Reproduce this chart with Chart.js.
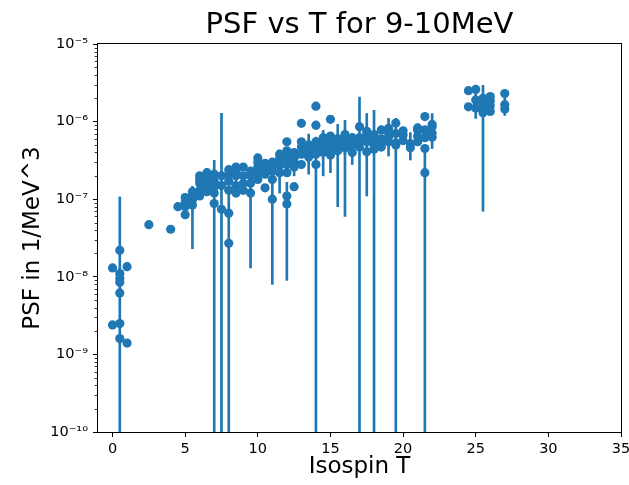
<!DOCTYPE html>
<html>
<head>
<meta charset="utf-8">
<script src="https://cdn.jsdelivr.net/npm/chart.js@4.4.1/dist/chart.umd.min.js"></script>
<style>
  html, body { margin: 0; padding: 0; background: #fff; }
  #c { display: block; }
</style>
</head>
<body>
<canvas id="c" width="629" height="485"></canvas>
<script>
// ---- data: isospin T, photon strength function value and its 1-sigma error ----
const isospin = [
  0, 0,
  0.5, 0.5, 0.5, 0.5, 0.5, 0.5, 0.5,
  1, 1,
  2.5, 4, 4.5,
  5, 5, 5, 5,
  5.5, 5.5, 5.5, 5.5,
  6, 6, 6, 6, 6,
  6.5, 6.5, 6.5, 6.5,
  7, 7, 7, 7, 7,
  7.5, 7.5, 7.5,
  8, 8, 8, 8, 8, 8,
  8.5, 8.5, 8.5, 8.5, 8.5,
  9, 9, 9, 9,
  9.5, 9.5, 9.5, 9.5,
  10, 10, 10, 10, 10,
  10.5, 10.5, 10.5, 10.5,
  11, 11, 11, 11, 11,
  11.5, 11.5, 11.5, 11.5,
  12, 12, 12, 12, 12, 12, 12,
  12.5, 12.5, 12.5, 12.5, 12.5,
  13, 13, 13, 13, 13,
  13.5, 13.5, 13.5, 13.5,
  14, 14, 14, 14, 14, 14,
  14.5, 14.5, 14.5, 14.5,
  15, 15, 15, 15, 15,
  15.5, 15.5, 15.5,
  16, 16, 16, 16,
  16.5, 16.5, 16.5,
  17, 17, 17, 17,
  17.5, 17.5, 17.5, 17.5,
  18, 18, 18, 18,
  18.5, 18.5, 18.5, 18.5,
  19, 19, 19, 19,
  19.5, 19.5, 19.5, 19.5,
  20, 20, 20,
  20.5, 20.5,
  21, 21, 21, 21,
  21.5, 21.5, 21.5, 21.5, 21.5,
  22, 22, 22, 22,
  24.5, 24.5,
  25, 25, 25,
  25.5, 25.5, 25.5, 25.5,
  26, 26, 26, 26,
  27, 27, 27
];

const psf = [
  1.3e-8, 2.4e-9,
  2.2e-8, 1.1e-8, 9.5e-9, 8.5e-9, 6.2e-9, 2.5e-9, 1.6e-9,
  1.35e-8, 1.4e-9,
  4.7e-8, 4.1e-8, 8.0e-8,
  1.05e-7, 9.0e-8, 6.3e-8, 8.0e-8,
  9.8e-8, 8.4e-8, 1.1e-7, 1.25e-7,
  2.0e-7, 1.3e-7, 1.6e-7, 1.1e-7, 1.8e-7,
  1.8e-7, 1.5e-7, 1.25e-7, 2.2e-7,
  2.1e-7, 1.45e-7, 8.8e-8, 1.7e-7, 1.2e-7,
  7.4e-8, 1.5e-7, 2.0e-7,
  6.6e-8, 2.7e-8, 2.1e-7, 1.7e-7, 1.3e-7, 2.4e-7,
  2.6e-7, 2.0e-7, 1.5e-7, 1.2e-7, 2.3e-7,
  2.6e-7, 2.0e-7, 1.6e-7, 1.3e-7,
  1.2e-7, 2.0e-7, 1.6e-7, 2.3e-7,
  3.4e-7, 2.6e-7, 2.2e-7, 1.8e-7, 3.0e-7,
  1.4e-7, 2.5e-7, 2.9e-7, 2.1e-7,
  1.0e-7, 1.8e-7, 2.7e-7, 3.0e-7, 2.3e-7,
  2.7e-7, 3.3e-7, 2.2e-7, 3.8e-7,
  5.5e-7, 1.1e-7, 8.7e-8, 3.5e-7, 2.8e-7, 4.2e-7, 2.2e-7,
  1.45e-7, 3.0e-7, 4.0e-7, 3.4e-7, 2.6e-7,
  9.5e-7, 4.7e-7, 2.8e-7, 3.8e-7, 5.5e-7,
  4.2e-7, 3.5e-7, 5.0e-7, 4.5e-7,
  1.58e-6, 9.0e-7, 2.8e-7, 4.6e-7, 5.5e-7, 3.8e-7,
  5.2e-7, 4.3e-7, 6.2e-7, 4.0e-7,
  1.07e-6, 5.5e-7, 4.5e-7, 6.5e-7, 3.7e-7,
  5.0e-7, 6.0e-7, 4.2e-7,
  5.5e-7, 6.8e-7, 4.6e-7, 5.8e-7,
  5.0e-7, 6.2e-7, 4.0e-7,
  8.6e-7, 4.7e-7, 6.2e-7, 5.5e-7,
  4.1e-7, 6.9e-7, 5.5e-7, 7.5e-7,
  6.0e-7, 5.0e-7, 6.8e-7, 4.4e-7,
  7.8e-7, 4.7e-7, 6.0e-7, 5.4e-7,
  7.3e-7, 5.5e-7, 8.2e-7, 6.4e-7,
  9.6e-7, 5.0e-7, 7.0e-7, 5.3e-7,
  6.7e-7, 5.7e-7, 7.6e-7,
  5.2e-7, 4.6e-7,
  7.8e-7, 6.5e-7, 5.5e-7, 8.3e-7,
  1.16e-6, 7.8e-7, 4.5e-7, 2.2e-7, 6.2e-7,
  8.6e-7, 7.1e-7, 6.3e-7, 9.2e-7,
  2.5e-6, 1.55e-6,
  2.6e-6, 1.9e-6, 1.5e-6,
  1.5e-6, 2.0e-6, 1.3e-6, 1.7e-6,
  2.1e-6, 1.6e-6, 1.35e-6, 1.85e-6,
  2.3e-6, 1.65e-6, 1.45e-6
];

const psfErr = [
  1e-9, 2e-10,
  8.5e-8, 1e-9, 8e-10, 1e-9, 5e-10, 3e-10, 2e-10,
  1e-9, 1e-10,
  3e-9, 3e-9, 5e-9,
  1e-8, 8e-9, 5e-9, 1e-8,
  8e-9, 6.1e-8, 1.5e-8, 2e-8,
  2e-8, 1e-8, 1.5e-8, 1e-8, 3e-8,
  2e-8, 1.2e-8, 1e-8, 3e-8,
  2e-8, 1e-8, 2.3e-7, 1.5e-8, 1e-8,
  1.2e-6, 1e-8, 2e-8,
  7e-8, 3e-9, 2e-8, 1.5e-8, 1e-8, 2e-8,
  3e-8, 2e-8, 1.5e-8, 1e-8, 6e-8,
  2e-8, 2e-8, 1.5e-8, 1e-8,
  1.07e-7, 2e-8, 1.2e-8, 2e-8,
  3e-8, 2e-8, 2e-8, 1.5e-8, 3e-8,
  1.2e-8, 2e-8, 3e-8, 2e-8,
  9.2e-8, 2e-8, 3e-8, 3e-8, 2e-8,
  4e-8, 3e-8, 1e-7, 5e-8,
  5e-8, 1e-8, 7.8e-8, 3e-8, 3e-8, 4e-8, 2e-8,
  1.2e-8, 1e-7, 4e-8, 3e-8, 2e-8,
  5e-8, 5e-8, 3e-8, 4e-8, 5e-8,
  1.2e-7, 3e-8, 5e-8, 2.4e-7,
  1e-7, 1e-7, 3.5e-7, 4e-8, 5e-8, 3e-8,
  5e-8, 4e-8, 1.5e-7, 2e-7,
  8e-8, 5e-8, 4e-8, 6e-8, 1.5e-7,
  4.2e-7, 5e-8, 4e-8,
  4.9e-7, 6e-8, 4e-8, 2e-7,
  4e-8, 5e-8, 1.2e-7,
  8e-8, 1.6e-6, 6e-8, 5e-8,
  4e-8, 5.8e-7, 5e-8, 7e-8,
  8e-7, 4e-8, 6e-8, 4e-8,
  7e-8, 4e-8, 5e-8, 5e-8,
  3.7e-7, 5e-8, 8e-8, 6e-8,
  8e-8, 6.0e-7, 6e-8, 5e-8,
  6e-8, 5e-8, 7e-8,
  2e-7, 4e-8,
  7e-8, 6e-8, 5e-8, 1e-7,
  1e-7, 7e-8, 4e-8, 2.3e-7, 6e-8,
  4.1e-7, 7e-8, 6e-8, 1e-7,
  1.5e-7, 1e-7,
  2e-7, 8e-7, 1e-7,
  1.43e-6, 2e-7, 1e-7, 1.5e-7,
  2e-7, 1.5e-7, 1.2e-7, 1.5e-7,
  2e-7, 4.5e-7, 1e-7
];

// ---- axes ----
const chartTitle = 'PSF vs T for 9-10MeV';
const xLabel = 'Isospin T';
const yLabel = 'PSF in 1/MeV^3';
const xTicks = [0, 5, 10, 15, 20, 25, 30, 35];
const xRange = [-1, 35];
const yRange = [1e-10, 1e-5];
const yDecades = [-10, -9, -8, -7, -6, -5];

const BLUE = '#1f77b4';
const FONT = '"DejaVu Sans", "Liberation Sans", sans-serif';

const SUP = { '-': '\u207B', '0': '\u2070', '1': '\u00B9', '2': '\u00B2', '3': '\u00B3',
              '4': '\u2074', '5': '\u2075', '6': '\u2076', '7': '\u2077', '8': '\u2078', '9': '\u2079' };
function powerLabel(exp) {
  return '10' + String(exp).split('').map(c => SUP[c]).join('');
}

// markers and symmetric error bars (lower end clipped to the axis floor on the log scale)
const points = isospin.map((t, i) => ({ x: t, y: psf[i] }));
const errorBars = isospin.map((t, i) => {
  let lo = psf[i] - psfErr[i];
  if (!(lo > yRange[0])) lo = yRange[0];
  return { x: t, y: [lo, psf[i] + psfErr[i]] };
});

// closed axes frame
const framePlugin = {
  id: 'frame',
  afterDatasetsDraw(chart) {
    const { ctx, chartArea: a } = chart;
    ctx.save();
    ctx.strokeStyle = '#000';
    ctx.lineWidth = 1;
    ctx.strokeRect(Math.round(a.left) - 0.5, Math.round(a.top) - 0.5,
                   Math.round(a.right) - Math.round(a.left) + 1, Math.round(a.bottom) - Math.round(a.top) + 1);
    ctx.restore();
  }
};

// minor log ticks (2..9 x 10^n) on the y axis
const minorTickPlugin = {
  id: 'minorTicks',
  afterDraw(chart) {
    const { ctx, chartArea: a } = chart;
    const ys = chart.scales.y;
    ctx.save();
    ctx.strokeStyle = '#000';
    ctx.lineWidth = 0.8;
    ctx.beginPath();
    for (const e of yDecades.slice(0, -1)) {
      for (let m = 2; m < 10; m++) {
        const py = Math.round(ys.getPixelForValue(m * Math.pow(10, e))) + 0.5;
        ctx.moveTo(Math.round(a.left) - 0.5, py);
        ctx.lineTo(Math.round(a.left) - 3.3, py);
      }
    }
    ctx.stroke();
    ctx.restore();
  }
};

// title centred over the plotting area
const titlePlugin = {
  id: 'axesTitle',
  afterDraw(chart) {
    const { ctx, chartArea: a } = chart;
    ctx.save();
    ctx.fillStyle = '#000';
    ctx.font = '29px ' + FONT;
    ctx.textAlign = 'center';
    ctx.textBaseline = 'alphabetic';
    ctx.fillText(chartTitle, (a.left + a.right) / 2, 33);
    ctx.restore();
  }
};

new Chart(document.getElementById('c'), {
  type: 'scatter',
  data: {
    datasets: [
      {
        type: 'scatter',
        label: 'PSF',
        data: points,
        backgroundColor: BLUE,
        borderColor: BLUE,
        borderWidth: 0,
        pointRadius: 4.6,
        pointHoverRadius: 4.6,
        order: 0
      },
      {
        type: 'bar',
        label: 'error',
        data: errorBars,
        backgroundColor: BLUE,
        borderWidth: 0,
        barThickness: 2,
        grouped: false,
        clip: 0,
        order: 1
      }
    ]
  },
  options: {
    responsive: false,
    animation: false,
    devicePixelRatio: 1,
    events: [],
    layout: { padding: { top: 44, right: 8, bottom: 0, left: 0 } },
    plugins: {
      legend: { display: false },
      tooltip: { enabled: false },
      title: { display: false }
    },
    scales: {
      x: {
        type: 'linear',
        position: 'bottom',
        min: xRange[0],
        max: xRange[1],
        offset: false,
        afterBuildTicks: s => { s.ticks = xTicks.map(v => ({ value: v })); },
        afterFit: s => { s.height = 53; s.paddingLeft = 0; s.paddingRight = 0; },
        ticks: {
          autoSkip: false, maxRotation: 0, padding: 4, color: '#000',
          font: { family: FONT, size: 14.5 },
          callback: v => String(v)
        },
        grid: { offset: false, drawOnChartArea: false, drawTicks: true, tickLength: 5, tickWidth: 1, tickColor: '#000' },
        border: { display: false },
        title: {
          display: true, text: xLabel, color: '#000',
          font: { family: FONT, size: 23 }, padding: { top: 0, bottom: 4 }
        }
      },
      y: {
        type: 'logarithmic',
        position: 'left',
        min: yRange[0],
        max: yRange[1],
        afterBuildTicks: s => { s.ticks = yDecades.map(e => ({ value: Math.pow(10, e) })); },
        afterFit: s => { s.width = 98; s.paddingTop = 0; s.paddingBottom = 0; },
        ticks: {
          autoSkip: false, padding: 5, color: '#000',
          font: { family: FONT, size: 14.5 },
          callback: v => powerLabel(Math.round(Math.log10(v)))
        },
        grid: { offset: false, drawOnChartArea: false, drawTicks: true, tickLength: 5, tickWidth: 1, tickColor: '#000' },
        border: { display: false },
        title: {
          display: true, text: yLabel, color: '#000',
          font: { family: FONT, size: 23 }, padding: { top: 19, bottom: 0 }
        }
      }
    }
  },
  plugins: [framePlugin, minorTickPlugin, titlePlugin]
});
</script>
</body>
</html>
